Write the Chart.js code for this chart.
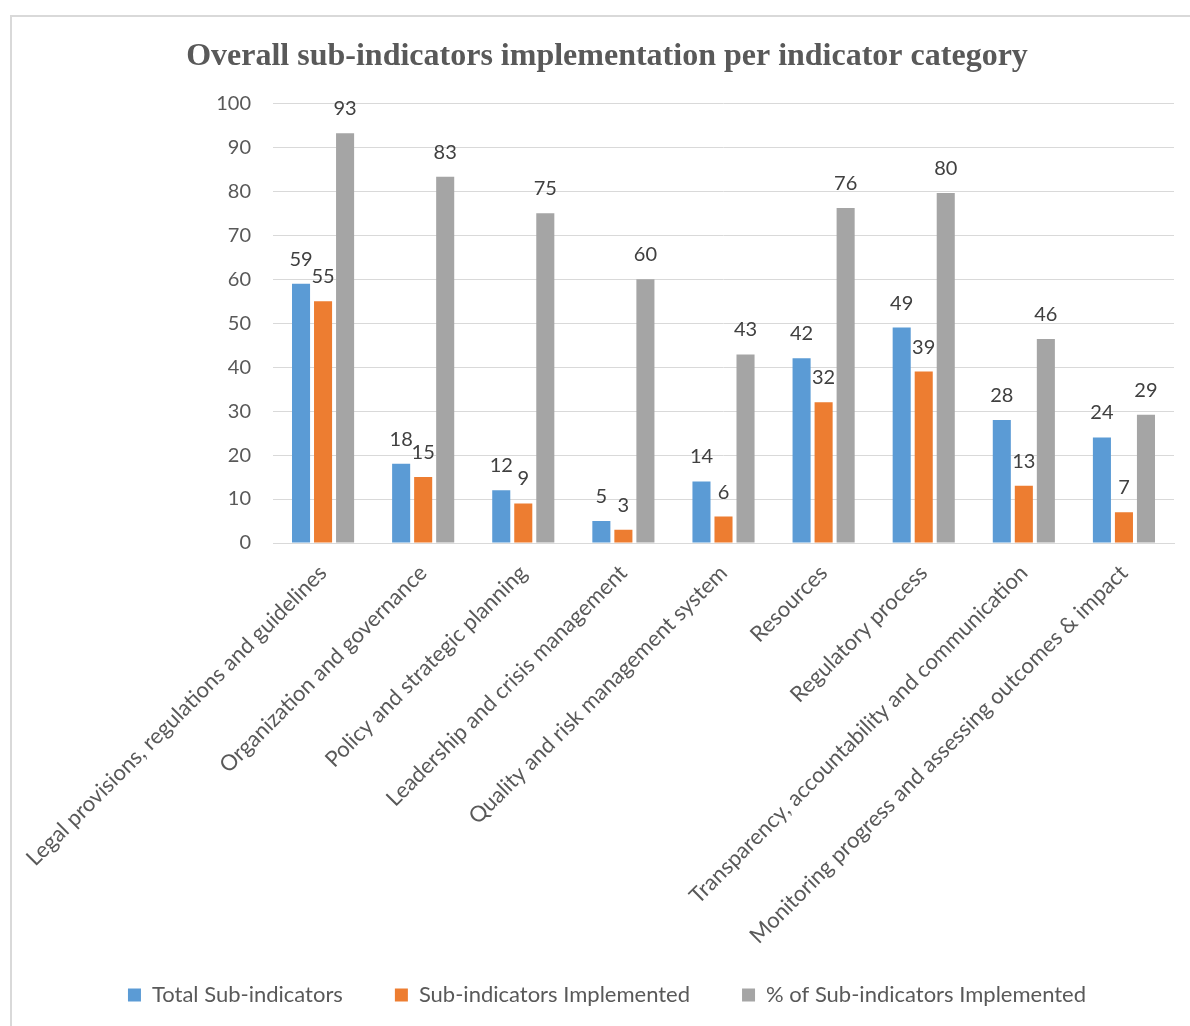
<!DOCTYPE html>
<html>
<head>
<meta charset="utf-8">
<script src="https://cdn.jsdelivr.net/npm/chart.js@4.4.1/dist/chart.umd.min.js"></script>
<style>
  html, body { margin: 0; padding: 0; background: #fff; }
  #frame {
    position: absolute; left: 10px; top: 15px; width: 1200px; height: 1030px;
    border-left: 2px solid #d9d9d9; border-top: 2px solid #d9d9d9;
  }
  #wrap { position: absolute; left: 0; top: 0; width: 1190px; height: 1026px; }
</style>
</head>
<body>
<div id="frame"></div>
<div id="wrap"><canvas id="chart"></canvas></div>
<script>
// categories on the x axis
const categories = [
  'Legal provisions, regulations and guidelines',
  'Organization and governance',
  'Policy and strategic planning',
  'Leadership and crisis management',
  'Quality and risk management system',
  'Resources',
  'Regulatory process',
  'Transparency, accountability and communication',
  'Monitoring progress and assessing outcomes & impact'
];

// series values
const totalSub = [59, 18, 12, 5, 14, 42, 49, 28, 24];
const implemented = [55, 15, 9, 3, 6, 32, 39, 13, 7];
const pctImplemented = [93.2, 83.3, 75, 60, 42.9, 76.2, 79.6, 46.4, 29.2];

// y axis ticks
const yMin = 0;
const yMax = 100;
const yStep = 10;

const seriesNames = ['Total Sub-indicators', 'Sub-indicators Implemented', '% of Sub-indicators Implemented'];
const colors = ['#5b9bd5', '#ed7d31', '#a5a5a5'];

const font = 'Lato';

// draw the value above each bar
const valueLabels = {
  id: 'valueLabels',
  afterDatasetsDraw(chart) {
    const ctx = chart.ctx;
    ctx.save();
    ctx.font = '20px ' + font;
    ctx.fillStyle = '#404040';
    ctx.textAlign = 'center';
    ctx.textBaseline = 'alphabetic';
    chart.data.datasets.forEach((ds, i) => {
      const meta = chart.getDatasetMeta(i);
      meta.data.forEach((bar, j) => {
        ctx.fillText(Math.round(ds.data[j]), bar.x, bar.y - 18);
      });
    });
    ctx.restore();
  }
};

// the long rotated labels run past the axis box, so let them spill into the legend gap
const labelRoom = {
  id: 'labelRoom',
  afterLayout(chart) {
    chart.scales.x.bottom = chart.height;
  }
};

const ctx = document.getElementById('chart').getContext('2d');
new Chart(ctx, {
  type: 'bar',
  data: {
    labels: categories,
    datasets: [
      { label: seriesNames[0], data: totalSub, backgroundColor: colors[0] },
      { label: seriesNames[1], data: implemented, backgroundColor: colors[1] },
      { label: seriesNames[2], data: pctImplemented, backgroundColor: colors[2] }
    ]
  },
  options: {
    responsive: true,
    maintainAspectRatio: false,
    animation: false,
    datasets: {
      bar: { categoryPercentage: 0.66, barPercentage: 0.82 }
    },
    layout: { padding: { left: 40, right: 16, top: 0, bottom: 10 } },
    scales: {
      x: {
        grid: { display: false },
        border: { display: true, color: '#d9d9d9', width: 1 },
        ticks: {
          color: '#595959',
          font: { family: font, size: 22 },
          minRotation: 45,
          maxRotation: 45,
          padding: 9,
          autoSkip: false
        },
        afterFit(scale) { scale.height = 389; }
      },
      y: {
        min: yMin,
        max: yMax,
        grid: { color: '#d9d9d9', lineWidth: 1, drawTicks: false },
        border: { display: false },
        ticks: {
          stepSize: yStep,
          color: '#595959',
          font: { family: font, size: 20 },
          padding: 22
        },
        afterFit(scale) { scale.width = 233; }
      }
    },
    plugins: {
      title: {
        display: true,
        text: 'Overall sub-indicators implementation per indicator category',
        color: '#595959',
        font: { family: 'Liberation Serif', size: 32, weight: 'bold' },
        padding: { top: 38, bottom: 27 }
      },
      legend: {
        position: 'bottom',
        labels: {
          color: '#595959',
          font: { family: font, size: 22 },
          boxWidth: 13,
          boxHeight: 13,
          padding: 52
        }
      },
      tooltip: { enabled: false }
    }
  },
  plugins: [valueLabels, labelRoom]
});
</script>
</body>
</html>
